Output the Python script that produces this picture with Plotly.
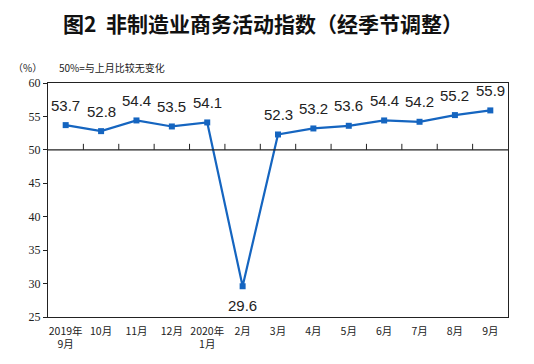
import plotly.graph_objects as go

categories = ["2019年<br>9月", "10月", "11月", "12月", "2020年<br>1月", "2月", "3月",
              "4月", "5月", "6月", "7月", "8月", "9月"]
values = [53.7, 52.8, 54.4, 53.5, 54.1, 29.6, 52.3, 53.2, 53.6, 54.4, 54.2, 55.2, 55.9]
y_ticks = [25, 30, 35, 40, 45, 50, 55, 60]

xs = list(range(len(categories)))

fig = go.Figure()
fig.add_trace(go.Scatter(
    x=xs, y=values, mode="lines+markers",
    line=dict(color="#1565c0", width=2.2),
    marker=dict(symbol="square", size=6, color="#1565c0"),
    cliponaxis=False, showlegend=False,
))

shapes = [dict(type="line", xref="paper", yref="y", x0=0, x1=1, y0=50, y1=50,
               line=dict(color="#222", width=1.2))]
for i in range(len(categories) - 1):
    shapes.append(dict(type="line", xref="x", yref="y", x0=i + 0.5, x1=i + 0.5,
                       y0=50, y1=50.9, line=dict(color="#222", width=1)))

annotations = [
    dict(text="<b>图2  非制造业商务活动指数（经季节调整）</b>", xref="paper", yref="paper",
         x=0.467, y=1.0, yshift=60, xanchor="center", yanchor="middle", showarrow=False,
         font=dict(family="Noto Sans CJK SC", size=21, color="#111")),
    dict(text="（%）", xref="paper", yref="paper", x=0, xshift=-37, y=1.0, yshift=16,
         xanchor="left", yanchor="middle", showarrow=False,
         font=dict(family="Noto Sans CJK SC", size=10, color="#222")),
    dict(text="50%=与上月比较无变化", xref="paper", yref="paper", x=0, xshift=9, y=1.0, yshift=16,
         xanchor="left", yanchor="middle", showarrow=False,
         font=dict(family="Noto Sans CJK SC", size=10, color="#222")),
]
for x, v in zip(xs, values):
    annotations.append(dict(
        text=f"{v:.1f}", x=x, y=v, xref="x", yref="y", showarrow=False,
        yshift=-19 if v < 50 else 20, xanchor="center", yanchor="middle",
        font=dict(family="Liberation Sans, Arial", size=15, color="#222")))

fig.update_layout(
    width=518, height=348,
    margin=dict(l=40, r=18, t=75, b=39),
    paper_bgcolor="white", plot_bgcolor="white",
    shapes=shapes,
    xaxis=dict(range=[-0.5, len(categories) - 0.5], tickvals=xs, ticktext=categories,
               showgrid=False, zeroline=False, showline=True, mirror=True,
               linecolor="#222", linewidth=1.2, ticks="", automargin=False,
               ticklabelstandoff=4,
               tickfont=dict(family="Noto Sans CJK SC", size=10.5, color="#222")),
    yaxis=dict(range=[25, 60], tickvals=y_ticks, showgrid=False, zeroline=False,
               showline=True, mirror=True, linecolor="#222", linewidth=1.2,
               ticks="outside", ticklen=4, tickcolor="#222", automargin=False,
               tickfont=dict(family="Liberation Serif, Times New Roman", size=12, color="#222")),
    annotations=annotations,
)
fig.write_html("out.html")
